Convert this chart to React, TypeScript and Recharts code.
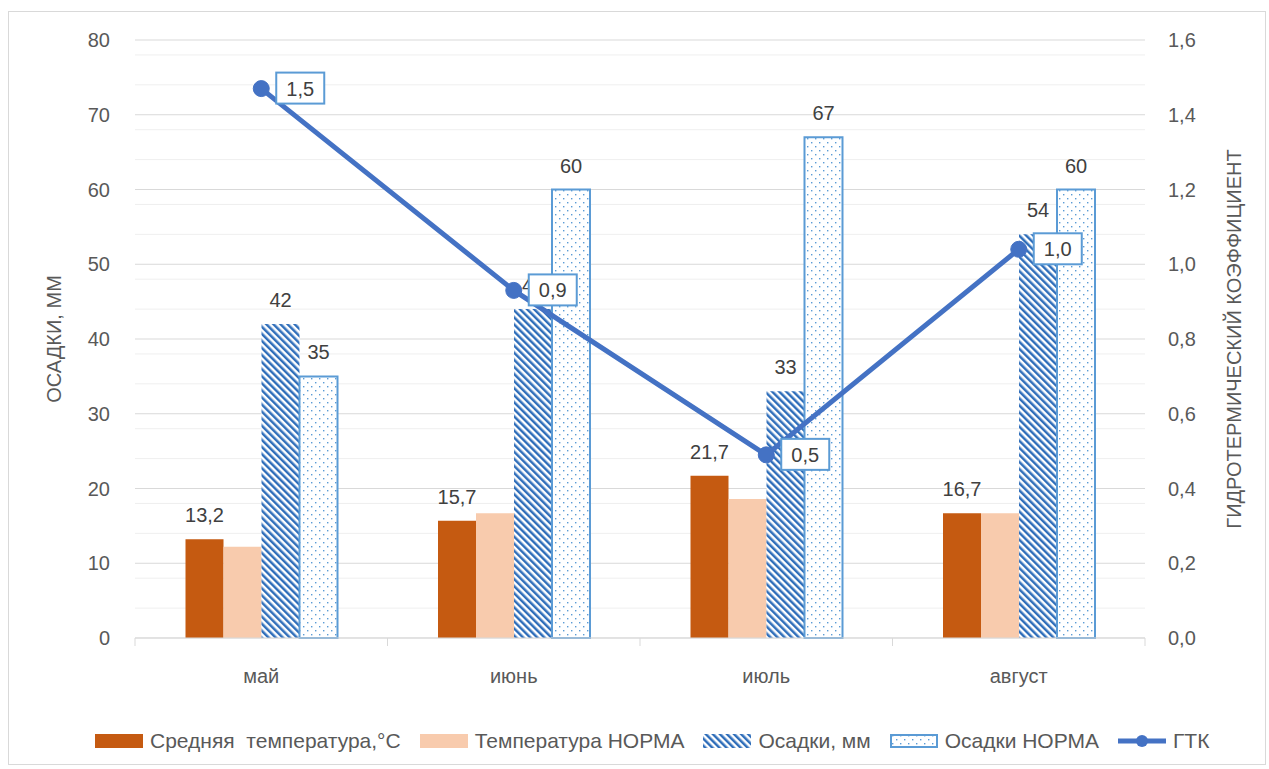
import React from 'react';
import { ComposedChart, Bar, Line, XAxis, YAxis, CartesianGrid, LabelList } from 'recharts';

// values
const months = ['май', 'июнь', 'июль', 'август'];
const tempAvg = [13.2, 15.7, 21.7, 16.7];
const tempNorm = [12.2, 16.7, 18.6, 16.7];
const precip = [42, 44, 33, 54];
const precipNorm = [35, 60, 67, 60];
const gtk = [1.47, 0.93, 0.49, 1.04];

const leftTicks = [0, 10, 20, 30, 40, 50, 60, 70, 80];
const rightTicks = [0, 0.2, 0.4, 0.6, 0.8, 1.0, 1.2, 1.4, 1.6];
const minorGrid = [2, 4, 6, 8, 12, 14, 16, 18, 22, 24, 26, 28, 32, 34, 36, 38, 42, 44, 46, 48, 52, 54, 56, 58, 62, 64, 66, 68, 72, 74, 76, 78];

const data = months.map((m, i) => ({
  month: m,
  tempAvg: tempAvg[i],
  tempNorm: tempNorm[i],
  precip: precip[i],
  precipNorm: precipNorm[i],
  gtk: gtk[i],
}));

const FONT = '"Liberation Sans", Arial, sans-serif';
const TEXT = '#595959';
const comma = (v: number) => v.toFixed(1).replace('.', ',');

const PatternDefs = () => (
  <defs>
    <pattern id="stripes" patternUnits="userSpaceOnUse" width="5" height="5" patternTransform="rotate(-45)">
      <rect width="5" height="5" fill="#fff" />
      <rect width="2.5" height="5" fill="#2F6EBA" />
    </pattern>
    <pattern id="dots" patternUnits="userSpaceOnUse" width="8" height="8">
      <rect width="8" height="8" fill="#fff" />
      <rect x="2" y="2" width="1.4" height="1.4" fill="#5B9BD5" />
      <rect x="6" y="6" width="1.4" height="1.4" fill="#5B9BD5" />
    </pattern>
  </defs>
);

const MonthTick = (props: any) => {
  const { x, y, payload, width } = props;
  const band = width / months.length;
  const isLast = payload.index === months.length - 1;
  return (
    <g>
      <line x1={x - band / 2} x2={x - band / 2} y1={y} y2={y + 8} stroke="#d9d9d9" />
      {isLast && <line x1={x + band / 2} x2={x + band / 2} y1={y} y2={y + 8} stroke="#d9d9d9" />}
      <text x={x} y={y + 38} textAnchor="middle" dominantBaseline="central" fill={TEXT} fontSize={20} fontFamily={FONT}>
        {payload.value}
      </text>
    </g>
  );
};

const GtkLabel = (props: any) => {
  const { x, y, value } = props;
  return (
    <g>
      <rect x={x + 15} y={y - 16} width={48} height={31} fill="#fff" stroke="#5B9BD5" strokeWidth={2} />
      <text x={x + 39} y={y} textAnchor="middle" dominantBaseline="central" fill="#404040" fontSize={20} fontFamily={FONT}>
        {comma(value)}
      </text>
    </g>
  );
};

const AxisTitle = ({ viewBox, text, dx }: any) => {
  const cx = viewBox.x + dx;
  const cy = viewBox.y + viewBox.height / 2;
  return (
    <text x={cx} y={cy} transform={`rotate(-90 ${cx} ${cy})`} textAnchor="middle" dominantBaseline="central" fill={TEXT} fontSize={20} fontFamily={FONT}>
      {text}
    </text>
  );
};

const legendItems = [
  { name: 'Средняя  температура,°С', kind: 'solid', color: '#C55A11' },
  { name: 'Температура НОРМА', kind: 'solid', color: '#F8CBAD' },
  { name: 'Осадки, мм', kind: 'stripes', color: '' },
  { name: 'Осадки НОРМА', kind: 'dots', color: '' },
  { name: 'ГТК', kind: 'line', color: '#4472C4' },
];

const Swatch = ({ kind, color }: { kind: string; color: string }) => (
  <svg width={48} height={16} style={{ display: 'block' }}>
    {kind === 'solid' && <rect x={0} y={1} width={48} height={14} fill={color} />}
    {kind === 'stripes' && <rect x={0} y={1} width={48} height={14} fill="url(#stripes)" />}
    {kind === 'dots' && <rect x={1} y={2} width={46} height={12} fill="url(#dots)" stroke="#5B9BD5" strokeWidth={2} />}
    {kind === 'line' && (
      <g>
        <line x1={0} x2={48} y1={8} y2={8} stroke={color} strokeWidth={5} />
        <circle cx={24} cy={8} r={6} fill={color} />
      </g>
    )}
  </svg>
);

export default function App() {
  return (
    <div style={{ position: 'absolute', left: 8, top: 11, width: 1256, height: 752, border: '1px solid #d9d9d9', background: '#fff' }}>
      <ComposedChart
        width={1256}
        height={700}
        data={data}
        margin={{ top: 28, right: 50, left: 50, bottom: 14 }}
        barCategoryGap="20%"
        barGap={0}
      >
        <PatternDefs />
        <CartesianGrid yAxisId="left" vertical={false} horizontalValues={minorGrid} stroke="#efefef" />
        <CartesianGrid yAxisId="left" vertical={false} stroke="#d9d9d9" />
        <XAxis
          dataKey="month"
          height={60}
          axisLine={{ stroke: '#d9d9d9' }}
          tickLine={false}
          tickSize={0}
          tickMargin={0}
          tick={<MonthTick />}
          interval={0}
        />
        <YAxis
          yAxisId="left"
          width={76}
          domain={[0, 80]}
          ticks={leftTicks}
          axisLine={false}
          tickLine={false}
          tickSize={0}
          tickMargin={25}
          tick={{ fill: TEXT, fontSize: 20, fontFamily: FONT }}
          label={{ content: (p: any) => <AxisTitle {...p} text="ОСАДКИ, ММ" dx={-5} /> }}
        />
        <YAxis
          yAxisId="right"
          orientation="right"
          width={70}
          domain={[0, 1.6]}
          ticks={rightTicks}
          axisLine={false}
          tickLine={false}
          tickSize={0}
          tickMargin={23}
          tickFormatter={comma}
          tick={{ fill: TEXT, fontSize: 20, fontFamily: FONT }}
          label={{ content: (p: any) => <AxisTitle {...p} text="ГИДРОТЕРМИЧЕСКИЙ КОЭФФИЦИЕНТ" dx={89} /> }}
        />
        <Bar yAxisId="left" dataKey="tempAvg" fill="#C55A11" isAnimationActive={false}>
          <LabelList dataKey="tempAvg" position="top" offset={17} formatter={(v: any) => comma(v)} fill="#404040" fontSize={20} fontFamily={FONT} />
        </Bar>
        <Bar yAxisId="left" dataKey="tempNorm" fill="#F8CBAD" isAnimationActive={false} />
        <Bar yAxisId="left" dataKey="precip" fill="url(#stripes)" isAnimationActive={false}>
          <LabelList dataKey="precip" position="top" offset={17} fill="#404040" fontSize={20} fontFamily={FONT} />
        </Bar>
        <Bar yAxisId="left" dataKey="precipNorm" fill="url(#dots)" stroke="#5B9BD5" strokeWidth={2} isAnimationActive={false}>
          <LabelList dataKey="precipNorm" position="top" offset={17} fill="#404040" fontSize={20} fontFamily={FONT} />
        </Bar>
        <Line
          yAxisId="right"
          dataKey="gtk"
          stroke="#4472C4"
          strokeWidth={5}
          dot={{ r: 8, fill: '#4472C4', stroke: '#4472C4', strokeWidth: 1 }}
          isAnimationActive={false}
        >
          <LabelList dataKey="gtk" content={<GtkLabel />} />
        </Line>
      </ComposedChart>
      <div
        style={{
          position: 'absolute',
          top: 717,
          left: 86,
          display: 'flex',
          alignItems: 'center',
          fontFamily: FONT,
          fontSize: 21,
          color: TEXT,
          whiteSpace: 'pre',
        }}
      >
        {legendItems.map((it) => (
          <div key={it.name} style={{ display: 'flex', alignItems: 'center', marginRight: 19 }}>
            <Swatch kind={it.kind} color={it.color} />
            <span style={{ marginLeft: 7 }}>{it.name}</span>
          </div>
        ))}
      </div>
    </div>
  );
}
